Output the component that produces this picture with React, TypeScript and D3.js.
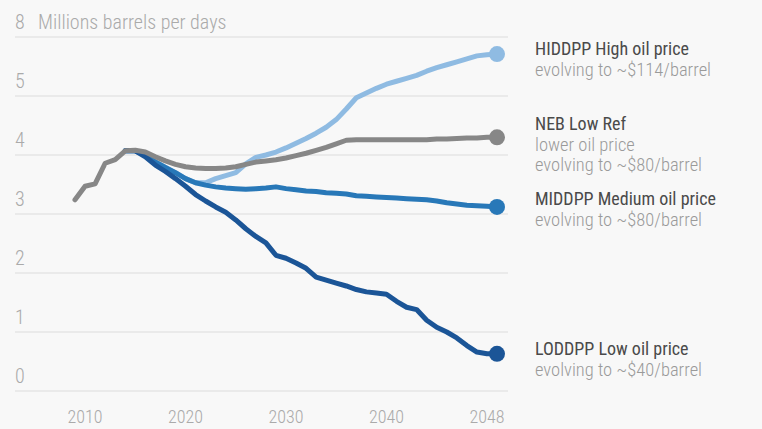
import React, { useEffect, useRef } from 'react';
import * as d3 from 'd3';

// years 2009..2051 (last point sits where the chart ends)
const years = d3.range(2009, 2052);

const nebLowRef = [3.24, 3.47, 3.51, 3.86, 3.92, 4.07, 4.08, 4.05, 3.97, 3.9, 3.84, 3.8, 3.78, 3.77, 3.77, 3.78, 3.8, 3.84, 3.88, 3.9, 3.92, 3.95, 3.99, 4.03, 4.08, 4.13, 4.19, 4.25, 4.26, 4.26, 4.26, 4.26, 4.26, 4.26, 4.26, 4.26, 4.27, 4.27, 4.28, 4.29, 4.29, 4.3, 4.3];
const hiddpp = [null, null, null, null, null, 4.07, 4.07, 4.0, 3.88, 3.79, 3.7, 3.6, 3.53, 3.53, 3.6, 3.65, 3.7, 3.85, 3.96, 4.0, 4.05, 4.12, 4.2, 4.28, 4.37, 4.47, 4.6, 4.78, 4.97, 5.05, 5.13, 5.2, 5.25, 5.3, 5.35, 5.42, 5.48, 5.53, 5.58, 5.63, 5.68, 5.7, 5.71];
const middpp = [null, null, null, null, null, 4.07, 4.07, 4.0, 3.88, 3.79, 3.7, 3.6, 3.53, 3.49, 3.46, 3.44, 3.43, 3.42, 3.43, 3.44, 3.46, 3.43, 3.41, 3.39, 3.38, 3.36, 3.35, 3.34, 3.31, 3.3, 3.29, 3.28, 3.27, 3.26, 3.25, 3.24, 3.22, 3.19, 3.17, 3.15, 3.14, 3.13, 3.12];
const loddpp = [null, null, null, null, null, 4.07, 4.07, 3.97, 3.83, 3.72, 3.6, 3.47, 3.33, 3.22, 3.12, 3.03, 2.9, 2.75, 2.62, 2.51, 2.3, 2.25, 2.17, 2.08, 1.93, 1.88, 1.83, 1.78, 1.72, 1.68, 1.66, 1.64, 1.52, 1.42, 1.38, 1.2, 1.08, 1.0, 0.9, 0.77, 0.66, 0.63, 0.63];

const yTicks = [0, 1, 2, 3, 4, 5, 6];
const yTickLabels = ['0', '1', '2', '3', '4', '5', '8'];
const xTicks = [2010, 2020, 2030, 2040, 2050];
const xTickLabels = ['2010', '2020', '2030', '2040', '2048'];
const yTitle = 'Millions barrels per days';

const seriesNames = ['HIDDPP High oil price', 'NEB Low Ref', 'MIDDPP Medium oil price', 'LODDPP Low oil price'];
const seriesNotes = [
  ['evolving to ~$114/barrel'],
  ['lower oil price', 'evolving to ~$80/barrel'],
  ['evolving to ~$80/barrel'],
  ['evolving to ~$40/barrel'],
];
const seriesValues = [hiddpp, nebLowRef, middpp, loddpp];
const seriesColors = ['#8fbbe2', '#878787', '#2878b8', '#1b5597'];
// label baseline offset from end dot
const labelDy = [1, -7, -2, 1];
// draw order (back to front)
const drawOrder = [0, 2, 3, 1];

const FONT = "'Roboto Condensed', 'Liberation Sans Narrow', 'DejaVu Sans Condensed', Roboto, sans-serif";

export default function App() {
  const ref = useRef<SVGSVGElement>(null);

  useEffect(() => {
    const width = 762, height = 429;
    const svg = d3.select(ref.current);
    svg.selectAll('*').remove();

    svg.append('rect').attr('width', width).attr('height', height).attr('fill', '#f8f8f8');

    const x = d3.scaleLinear().domain([2009, 2051]).range([75, 497]);
    const y = d3.scaleLinear().domain([0, 6]).range([391, 37]);

    // grid + y labels
    const grid = svg.append('g');
    grid.selectAll('line')
      .data(yTicks)
      .enter()
      .append('line')
      .attr('x1', 15)
      .attr('x2', 508)
      .attr('y1', d => y(d))
      .attr('y2', d => y(d))
      .attr('stroke', '#e6e6e6')
      .attr('stroke-width', 1.5);

    grid.selectAll('text')
      .data(yTicks)
      .enter()
      .append('text')
      .attr('x', 15)
      .attr('y', d => y(d) - 8)
      .attr('fill', '#aaa')
      .style('font-family', FONT)
      .style('font-size', '20px')
      .style('font-weight', 300)
      .text((d, i) => yTickLabels[i]);

    svg.append('text')
      .attr('x', 38)
      .attr('y', y(6) - 8)
      .attr('fill', '#aaa')
      .style('font-family', FONT)
      .style('font-size', '20px')
      .style('font-weight', 300)
      .text(yTitle);

    // x axis labels
    svg.append('g')
      .selectAll('text')
      .data(xTicks)
      .enter()
      .append('text')
      .attr('x', d => x(d))
      .attr('y', 423)
      .attr('text-anchor', 'middle')
      .attr('fill', '#aaa')
      .style('font-family', FONT)
      .style('font-size', '18px')
      .style('font-weight', 300)
      .text((d, i) => xTickLabels[i]);

    const line = d3.line<number | null>()
      .defined(d => d != null)
      .x((d, i) => x(years[i]))
      .y(d => y(d as number));

    drawOrder.forEach(s => {
      const vals = seriesValues[s];
      svg.append('path')
        .datum(vals)
        .attr('d', line)
        .attr('fill', 'none')
        .attr('stroke', seriesColors[s])
        .attr('stroke-width', 5)
        .attr('stroke-linejoin', 'round')
        .attr('stroke-linecap', 'round');

      const last = vals.length - 1;
      svg.append('circle')
        .attr('cx', x(years[last]))
        .attr('cy', y(vals[last] as number))
        .attr('r', 8)
        .attr('fill', seriesColors[s]);
    });

    // end labels
    seriesNames.forEach((name, s) => {
      const vals = seriesValues[s];
      const base = y(vals[vals.length - 1] as number) + labelDy[s];
      const g = svg.append('g').style('font-family', FONT);
      g.append('text')
        .attr('x', 535)
        .attr('y', base)
        .attr('fill', '#4a4a4a')
        .style('font-size', '18px')
        .text(name);
      seriesNotes[s].forEach((note, k) => {
        g.append('text')
          .attr('x', 535)
          .attr('y', base + 21 + k * 20)
          .attr('fill', '#9a9a9a')
          .style('font-size', '18.5px')
          .style('font-weight', 300)
          .text(note);
      });
    });
  }, []);

  return (
    <svg ref={ref} width={762} height={429} style={{ position: 'absolute', left: 0, top: 0, display: 'block' }} />
  );
}
